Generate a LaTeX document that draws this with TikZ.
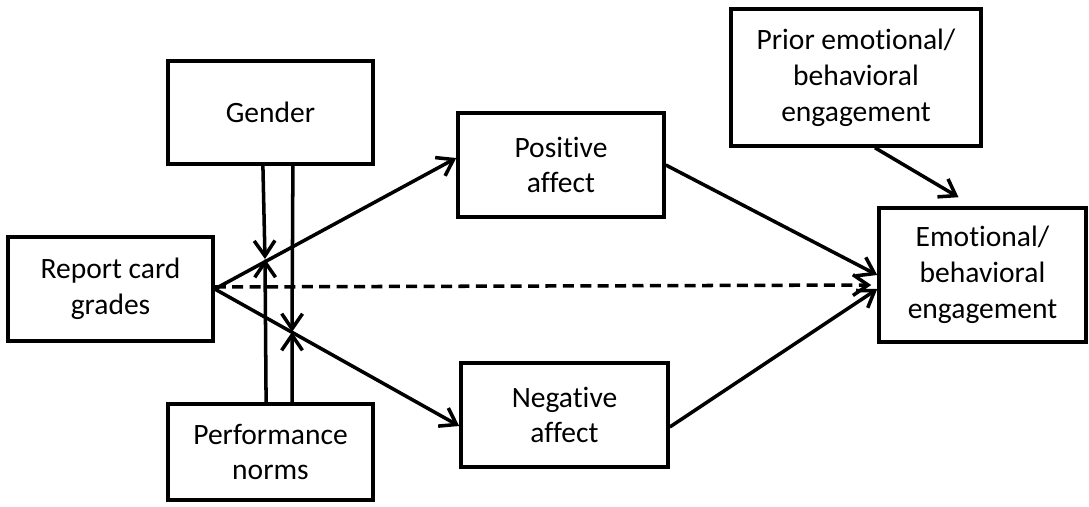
\documentclass[tikz,border=0pt]{standalone}
\usepackage{fontspec}
\setmainfont[Ligatures=NoCommon]{Carlito}
\usetikzlibrary{arrows.meta,positioning}

\begin{document}
\begin{tikzpicture}[x=0.025cm,y=-0.025cm,
  box/.style={draw,line width=2.5pt,align=center,inner sep=2pt,font=\fontsize{21}{25.5}\selectfont},
  arr/.style={line width=2.5pt,-{Straight Barb[length=3.8mm,width=5.2mm]}}]
\useasboundingbox (0,0) rectangle (1089,506);
% boxes
\node[box,minimum width=5.125cm,minimum height=2.575cm] (gender) at (270.5,112.5) {Gender};
\node[box,minimum width=5.125cm,minimum height=2.6cm] (grades) at (110.5,289) {Report card\\grades};
\node[box,minimum width=5.125cm,minimum height=2.4cm] (norms) at (270.5,452) {Performance\\norms};
\node[box,minimum width=5.15cm,minimum height=2.6cm] (pos) at (561,165) {Positive\\affect};
\node[box,minimum width=5.175cm,minimum height=2.6cm] (neg) at (564.5,415) {Negative\\affect};
\node[box,minimum width=6.25cm,minimum height=3.425cm] (prior) at (856,77.5) {Prior emotional/\\behavioral\\engagement};
\node[box,minimum width=5.175cm,minimum height=3.35cm] (engage) at (982.5,275) {Emotional/\\behavioral\\engagement};
% moderation points
\coordinate (m1) at (265,259);
\coordinate (m2) at (292,332);
% paths
\draw[arr] (grades.east) -- ([yshift=0.175cm]pos.west);
\draw[arr] (grades.east) -- ([yshift=-0.275cm]neg.west);
\draw[arr,dashed,dash pattern=on 0.275cm off 0.16cm] ([yshift=0.05cm]grades.east) -- ([xshift=-0.15cm,yshift=-0.25cm]engage.west);
\draw[arr] (pos.east) -- (engage.west);
\draw[arr] ([yshift=-0.3cm]neg.east) -- ([yshift=-0.35cm]engage.west);
\draw[arr] ([xshift=0.475cm]prior.south) -- ([xshift=-0.6cm,yshift=0.225cm]engage.north);
\draw[arr] ([xshift=-0.19cm]gender.south) -- (m1);
\draw[arr] ([xshift=0.56cm]gender.south) -- (m2);
\draw[arr] ([xshift=-0.11cm]norms.north) -- (m1);
\draw[arr] ([xshift=0.54cm]norms.north) -- (m2);
\end{tikzpicture}
\end{document}
